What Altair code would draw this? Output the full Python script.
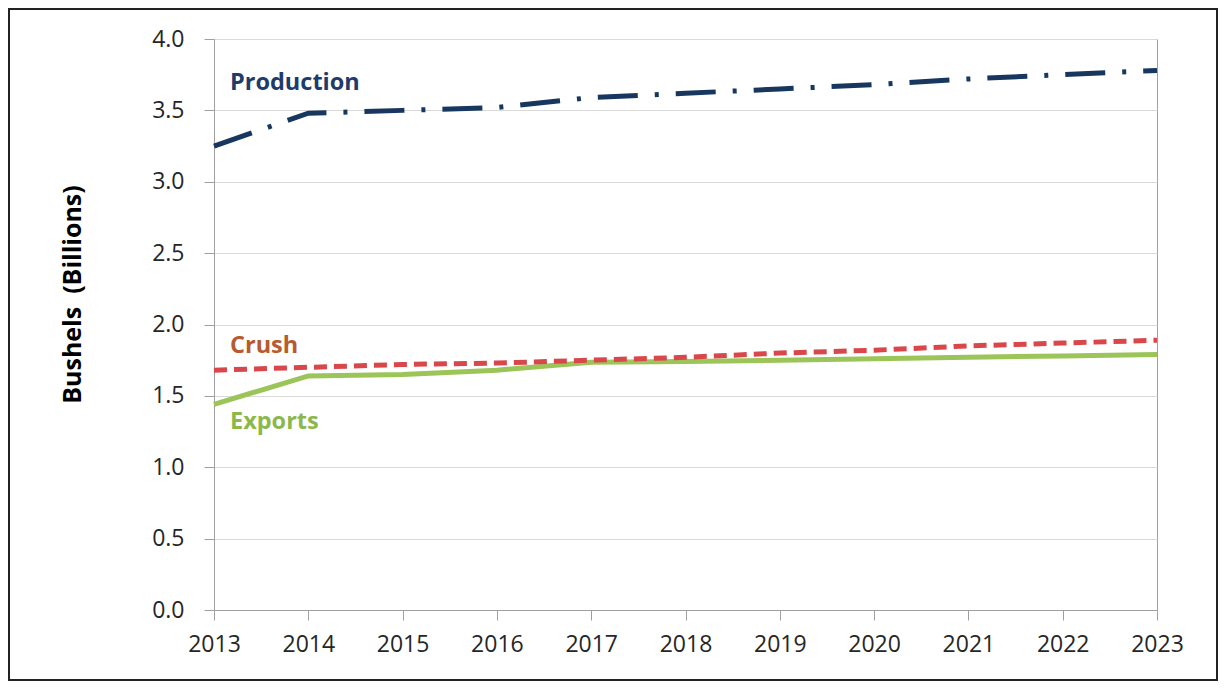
import altair as alt
import pandas as pd

years = [2013, 2014, 2015, 2016, 2017, 2018, 2019, 2020, 2021, 2022, 2023]
production = [3.25, 3.48, 3.50, 3.52, 3.59, 3.62, 3.65, 3.68, 3.72, 3.75, 3.78]
crush = [1.68, 1.70, 1.72, 1.73, 1.75, 1.77, 1.80, 1.82, 1.85, 1.87, 1.89]
exports = [1.44, 1.64, 1.65, 1.68, 1.735, 1.74, 1.75, 1.76, 1.77, 1.78, 1.79]

label_names = ["Production", "Crush", "Exports"]
label_years = [2013, 2013, 2013]
label_values = [3.69, 1.85, 1.32]
label_colors = ["#1F3B6B", "#B85A2E", "#8CB84A"]

FONT = "Open Sans"

df = pd.DataFrame({
    "year": years * 3,
    "value": production + crush + exports,
    "series": ["Production"] * 11 + ["Crush"] * 11 + ["Exports"] * 11,
})
labels = pd.DataFrame({"year": label_years, "value": label_values,
                       "name": label_names, "color": label_colors})

x = alt.X("year:Q", scale=alt.Scale(domain=[2013, 2023], nice=False, zero=False),
          axis=alt.Axis(values=years, format="d", title=None, grid=False,
                        labelFontSize=23, labelFont=FONT, labelColor="#262626",
                        labelPadding=13, tickSize=10, tickColor="#A0A0A0",
                        domainColor="#A0A0A0", labelFlush=False))
y = alt.Y("value:Q", scale=alt.Scale(domain=[0, 4], nice=False),
          axis=alt.Axis(values=[0, 0.5, 1, 1.5, 2, 2.5, 3, 3.5, 4], format=".1f",
                        title="Bushels\u00a0\u00a0(Billions)", titleFont=FONT, titleFontSize=25,
                        titleFontWeight="bold", titleColor="#000000",
                        titleX=-142, titleY=255, titleAlign="center",
                        titleBaseline="middle", titleAngle=270,
                        labelFontSize=23, labelFont=FONT, labelColor="#262626",
                        labelPadding=20, tickSize=10, tickColor="#A0A0A0",
                        domainColor="#A0A0A0", gridColor="#D9D9D9", gridWidth=1))

base = alt.Chart(df)

prod = base.transform_filter(alt.datum.series == "Production").mark_line(
    color="#17375E", strokeWidth=5, strokeDash=[40, 17, 4, 17]).encode(x=x, y=y)
cr = base.transform_filter(alt.datum.series == "Crush").mark_line(
    color="#D9474A", strokeWidth=5, strokeDash=[13, 7]).encode(x=x, y=y)
ex = base.transform_filter(alt.datum.series == "Exports").mark_line(
    color="#9BC459", strokeWidth=5).encode(x=x, y=y)

txt = alt.Chart(labels).mark_text(align="left", baseline="middle", dx=16,
                                  font=FONT, fontSize=23.5, fontWeight="bold").encode(
    x=alt.X("year:Q"), y=alt.Y("value:Q"),
    text="name:N", color=alt.Color("color:N", scale=None))

frame = alt.Chart(labels).mark_rect(fill=None, stroke="#222222", strokeWidth=2).encode(
    x=alt.value(-205), x2=alt.value(1003), y=alt.value(-30), y2=alt.value(641))

chart = alt.layer(ex, cr, prod, txt, frame).properties(
    width=943, height=571,
    autosize=alt.AutoSizeParams(type="none"),
    padding={"left": 206, "top": 31, "right": 61, "bottom": 71},
    background="white",
).configure_view(stroke="#A0A0A0", strokeWidth=1)

chart.save("out.html", embed_options={"renderer": "svg", "actions": False})
